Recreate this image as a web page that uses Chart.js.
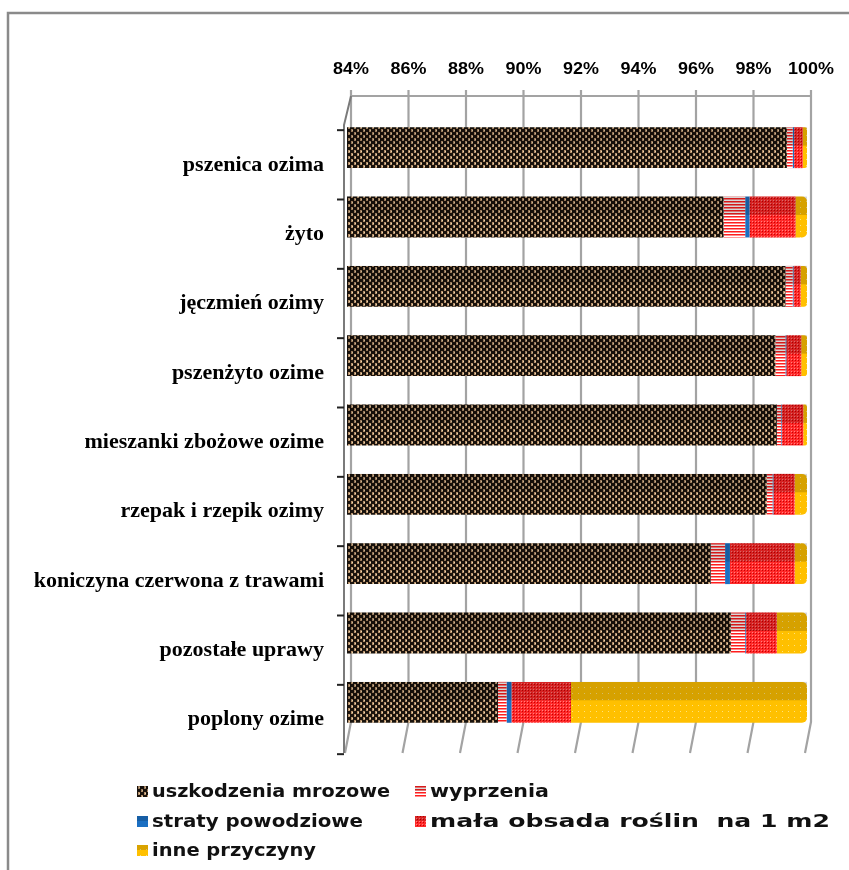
<!DOCTYPE html>
<html><head><meta charset="utf-8">
<script src="https://cdn.jsdelivr.net/npm/chart.js@4.4.1/dist/chart.umd.min.js"></script>
<style>html,body{margin:0;padding:0;background:#fff}canvas{display:block}</style>
</head><body>
<canvas id="c" width="849" height="870"></canvas>
<script>
// ── Data (shares in %, 100% stacked, axis shown from 84%) ──
const categories=['pszenica ozima','żyto','jęczmień ozimy','pszenżyto ozime','mieszanki zbożowe ozime',
  'rzepak i rzepik ozimy','koniczyna czerwona z trawami','pozostałe uprawy','poplony ozime'];
const seriesNames=['uszkodzenia mrozowe','wyprzenia','straty powodziowe','mała obsada roślin  na 1 m2','inne przyczyny'];
const mrozowe   =[99.3, 97.1, 99.25,98.9, 98.95,98.6, 96.65,97.35,89.25];
const wyprzenia =[0.2,  0.75, 0.25, 0.35, 0.15, 0.2,  0.5,  0.5,  0.3];
const powodziowe=[0.05, 0.15, 0.03, 0.03, 0.02, 0.03, 0.17, 0.03, 0.17];
const obsada    =[0.3,  1.6,  0.25, 0.52, 0.75, 0.74, 2.25, 1.07, 2.07];
const inne      =[0.15, 0.4,  0.22, 0.2,  0.13, 0.43, 0.43, 1.05, 8.21];
const xTicks=[84,86,88,90,92,94,96,98,100];

const canvas=document.getElementById('c');
const ctx=canvas.getContext('2d');

// ── Fill patterns ──
function hex(c){return [parseInt(c.slice(1,3),16),parseInt(c.slice(3,5),16),parseInt(c.slice(5,7),16)];}
function pattern(w,h,fn){
  const t=document.createElement('canvas');t.width=w;t.height=h;
  const tc=t.getContext('2d');const img=tc.createImageData(w,h);
  for(let y=0;y<h;y++)for(let x=0;x<w;x++){
    const [r,g,b]=hex(fn(x,y));const i=(y*w+x)*4;
    img.data[i]=r;img.data[i+1]=g;img.data[i+2]=b;img.data[i+3]=255;}
  tc.putImageData(img,0,0);
  return ctx.createPattern(t,'repeat');
}
const pBrown=pattern(6,6,(x,y)=>{
  const on=(Math.floor(x/3)+Math.floor(y/3))%2===0;
  if(!on||x%3===2)return '#1a130d';
  return (x%3===1&&y%3===1)?'#ecd6b0':'#b48f6a';
});
const pStripe=pattern(1,3,(x,y)=>['#ff1e1e','#ff8c8c','#ffffff'][y]);
const pRed=pattern(3,3,(x,y)=>(x===0&&y===0)?'#c80000':((x===2&&y===2)?'#ff8080':'#ff2a2a'));
const pYellow=pattern(6,6,(x,y)=>(x===2&&y===3)?'#ffe27a':'#ffc000');
const blue='#1b6fc2';

const fills=[pBrown,pStripe,blue,pRed,pYellow];
const seriesData=[mrozowe,wyprzenia,powodziowe,obsada,inne];
// legend text widths on the original (stretched rendering)
const legendSlots=[[0,137,792,238],[1,415,792,119],[2,137,822,211],[3,415,822,400],[4,137,851,164]];

// ── Frame, grid and labels drawn around the plot ──
const BACK=4;
const frame={
  id:'frame',
  beforeDraw(c){
    const g=c.ctx;g.save();
    g.fillStyle='#fff';g.fillRect(0,0,c.width,c.height);
    g.strokeStyle='#8a8a8a';g.lineWidth=2.5;
    g.beginPath();g.moveTo(8,870);g.lineTo(8,13);g.lineTo(849,13);g.stroke();
    g.restore();
  },
  beforeDatasetsDraw(c){
    const g=c.ctx,xs=c.scales.x,ys=c.scales.y;
    const top=96,bot=722,floor=753;
    g.save();
    g.strokeStyle='#a3a3a3';g.lineWidth=2.2;
    const x0=xs.getPixelForValue(84)+BACK,x1=xs.getPixelForValue(100)+BACK;
    g.beginPath();g.moveTo(x0,top);g.lineTo(x1,top);g.stroke();
    xTicks.forEach(v=>{
      const px=xs.getPixelForValue(v)+BACK;
      g.beginPath();g.moveTo(px,top-6);g.lineTo(px,bot);g.lineTo(px-6,floor);g.stroke();
    });
    // left wall edge
    const lx=xs.getPixelForValue(84)-3;
    g.strokeStyle='#7a7a7a';g.lineWidth=2;
    g.beginPath();g.moveTo(x0,top);g.lineTo(lx,125);g.lineTo(lx,floor);g.stroke();
    // category tick marks
    g.strokeStyle='#222';g.lineWidth=2;
    const step=ys.getPixelForValue(1)-ys.getPixelForValue(0);
    for(let k=0;k<=categories.length;k++){
      const py=ys.getPixelForValue(0)+k*step-17.5;
      g.beginPath();g.moveTo(lx-7,py);g.lineTo(lx,py);g.stroke();
    }
    // top percent labels
    g.fillStyle='#000';g.textAlign='center';g.textBaseline='middle';
    g.font='bold 16px "Liberation Sans", Arial, sans-serif';
    xTicks.forEach(v=>{
      const px=xs.getPixelForValue(v)+BACK;
      g.save();g.translate(px,70);g.scale(1.12,1);g.fillText(v+'%',0,0);g.restore();
    });
    // category labels
    g.textAlign='right';g.textBaseline='alphabetic';
    g.font='bold 22px "Liberation Serif", "Times New Roman", serif';
    categories.forEach((lab,i)=>{
      g.fillText(lab,324,ys.getPixelForValue(i)+23);
    });
    g.restore();
  },
  afterDatasetsDraw(c){
    const g=c.ctx,a=c.chartArea;
    g.save();g.beginPath();g.rect(a.left,a.top,a.right-a.left+10,a.bottom-a.top);g.clip();
    g.fillStyle='rgba(0,0,0,0.16)';
    c.data.datasets.forEach((ds,di)=>{
      c.getDatasetMeta(di).data.forEach(el=>{
        const p=el.getProps(['x','y','base','height'],true);
        const l=Math.min(p.x,p.base),w=Math.abs(p.x-p.base);
        g.fillRect(l,p.y-p.height/2,w,p.height*0.45);
      });
    });
    g.restore();
    // legend
    g.save();
    g.font='bold 18px "DejaVu Sans", sans-serif';
    g.textBaseline='middle';g.textAlign='left';
    legendSlots.forEach(([di,lx,ly,tw])=>{
      const ds=c.data.datasets[di];
      g.fillStyle=ds.backgroundColor;g.fillRect(lx,ly-6,11,11);
      g.fillStyle='rgba(0,0,0,0.15)';g.fillRect(lx,ly-6,11,5);
      g.fillStyle='#111';
      const sx=tw/g.measureText(ds.label).width;
      g.save();g.translate(lx+15,ly);g.scale(sx,1);g.fillText(ds.label,0,0);g.restore();
    });
    g.restore();
  }
};

new Chart(canvas,{
  type:'bar',
  data:{labels:categories,datasets:seriesNames.map((n,i)=>({
    label:n,data:seriesData[i],backgroundColor:fills[i],borderWidth:0,
    barPercentage:0.59,categoryPercentage:1,
    borderRadius:i===4?{topRight:5,bottomRight:5,topLeft:0,bottomLeft:0}:0,borderSkipped:false
  }))},
  options:{indexAxis:'y',responsive:false,animation:false,
    layout:{padding:{left:347,right:42,top:113,bottom:133}},
    scales:{
      x:{display:false,stacked:true,min:84,max:100},
      y:{display:false,stacked:true}
    },
    plugins:{legend:{display:false},tooltip:{enabled:false}}
  },
  plugins:[frame]
});
</script>
</body></html>
